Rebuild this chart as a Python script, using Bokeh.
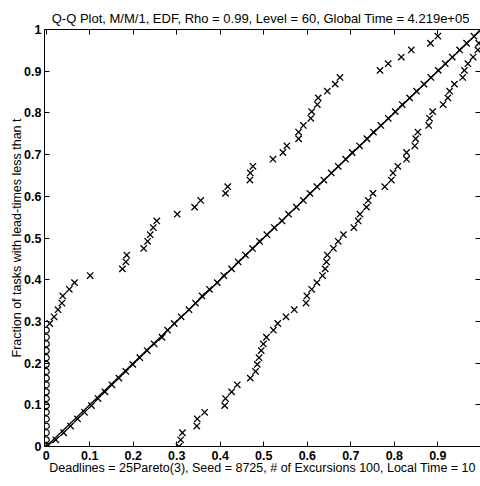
from bokeh.plotting import figure
from bokeh.models import ColumnDataSource, FixedTicker, LinearAxis, Slope, Range1d
from bokeh.embed import file_html
from bokeh.resources import INLINE

# EDF levels (fraction of tasks)
levels = [0.000, 0.016, 0.033, 0.049, 0.066, 0.082, 0.098, 0.115, 0.131, 0.148,
          0.164, 0.180, 0.197, 0.213, 0.230, 0.246, 0.262, 0.279, 0.295, 0.311,
          0.328, 0.344, 0.361, 0.377, 0.393, 0.410, 0.426, 0.443, 0.459, 0.475,
          0.492, 0.508, 0.525, 0.541, 0.557, 0.574, 0.590, 0.607, 0.623, 0.639,
          0.656, 0.672, 0.689, 0.705, 0.721, 0.738, 0.754, 0.770, 0.787, 0.803,
          0.820, 0.836, 0.852, 0.869, 0.885, 0.902, 0.918, 0.934, 0.951, 0.967,
          0.984, 1.000]

# series close to the diagonal (levels 0..61)
diag_x = [0.000, 0.022, 0.040, 0.056, 0.072, 0.088, 0.104, 0.119, 0.135, 0.151,
          0.167, 0.183, 0.199, 0.215, 0.232, 0.248, 0.266, 0.279, 0.294, 0.310,
          0.328, 0.343, 0.358, 0.375, 0.393, 0.408, 0.426, 0.441, 0.458, 0.474,
          0.490, 0.507, 0.524, 0.542, 0.557, 0.575, 0.591, 0.606, 0.622, 0.638,
          0.655, 0.671, 0.688, 0.703, 0.720, 0.737, 0.752, 0.769, 0.786, 0.802,
          0.818, 0.835, 0.851, 0.868, 0.884, 0.901, 0.917, 0.933, 0.950, 0.966,
          0.983, 0.998]

# points sitting on x = 0 (levels 0..17)
zero_x = [0, 0, 0, 0, 0, 0, 0, 0, 0, 0, 0, 0, 0, 0, 0, 0, 0, 0]

# upper series (levels 18..60)
upper_x = [0.008, 0.018, 0.027, 0.036, 0.038, 0.053, 0.065, 0.101, 0.175, 0.183,
           0.185, 0.224, 0.233, 0.239, 0.246, 0.254, 0.301, 0.341, 0.355, 0.412,
           0.417, 0.468, 0.469, 0.475, 0.521, 0.544, 0.553, 0.580, 0.580, 0.591,
           0.608, 0.610, 0.623, 0.625, 0.646, 0.664, 0.675, 0.767, 0.786, 0.816,
           0.839, 0.883, 0.900]

# lower series (levels 0..59)
lower_x = [0.305, 0.309, 0.313, 0.346, 0.347, 0.364, 0.410, 0.412, 0.426, 0.439,
           0.469, 0.481, 0.485, 0.489, 0.494, 0.499, 0.506, 0.522, 0.532, 0.551,
           0.570, 0.597, 0.599, 0.610, 0.622, 0.635, 0.641, 0.644, 0.646, 0.660,
           0.671, 0.683, 0.707, 0.717, 0.721, 0.736, 0.740, 0.751, 0.778, 0.793,
           0.797, 0.808, 0.828, 0.828, 0.847, 0.849, 0.854, 0.879, 0.881, 0.888,
           0.912, 0.923, 0.927, 0.938, 0.957, 0.961, 0.969, 0.981, 0.992, 0.994]

x_ticks = [0, 0.1, 0.2, 0.3, 0.4, 0.5, 0.6, 0.7, 0.8, 0.9, 1]
y_ticks = [0, 0.1, 0.2, 0.3, 0.4, 0.5, 0.6, 0.7, 0.8, 0.9, 1]

title_text = "Q-Q Plot, M/M/1, EDF, Rho = 0.99, Level = 60,  Global Time = 4.219e+05"
x_label = "Deadlines = 25Pareto(3), Seed = 8725, # of Excursions 100, Local Time = 10"
y_label = "Fraction of tasks with lead-times less than t"

FONT = "Liberation Sans"

diag_src = ColumnDataSource(dict(x=diag_x, y=levels[:len(diag_x)]))
zero_src = ColumnDataSource(dict(x=zero_x, y=levels[:len(zero_x)]))
upper_src = ColumnDataSource(dict(x=upper_x, y=levels[18:18 + len(upper_x)]))
lower_src = ColumnDataSource(dict(x=lower_x, y=levels[:len(lower_x)]))

p = figure(width=480, height=486, output_backend="svg", toolbar_location=None,
           x_range=Range1d(-0.004, 0.998), y_range=Range1d(0, 1),
           min_border_left=44, min_border_right=0, min_border_top=29,
           min_border_bottom=40, background_fill_color="white",
           border_fill_color="white")
p.outline_line_color = None
p.grid.visible = False

p.title.text = title_text
p.title.align = "center"
p.title.text_font = FONT
p.title.text_font_size = "13px"
p.title.text_font_style = "normal"
p.title.text_color = "black"
p.title.standoff = 8

ticker_x = FixedTicker(ticks=x_ticks)
ticker_y = FixedTicker(ticks=y_ticks)
overrides = {0: "0", 1: "1"}

for ax, tk in ((p.xaxis[0], ticker_x), (p.yaxis[0], ticker_y)):
    ax.ticker = tk
    ax.major_label_overrides = overrides
    ax.major_tick_in = 5
    ax.major_tick_out = 0
    ax.minor_tick_line_color = None
    ax.axis_line_color = "black"
    ax.major_tick_line_color = "black"
    ax.major_label_text_font = FONT
    ax.major_label_text_font_size = "12.5px"
    ax.major_label_text_font_style = "bold"
    ax.major_label_text_color = "black"
    ax.axis_label_text_font = FONT
    ax.axis_label_text_font_size = "12.5px"
    ax.axis_label_text_font_style = "normal"
    ax.axis_label_text_color = "black"

p.xaxis[0].axis_label = x_label
p.xaxis[0].major_label_standoff = 4
p.xaxis[0].axis_label_standoff = -2
p.yaxis[0].axis_label = y_label
p.yaxis[0].major_label_standoff = 3
p.yaxis[0].axis_label_standoff = -3

top_axis = LinearAxis(ticker=ticker_x, major_tick_in=5, major_tick_out=0,
                      minor_tick_line_color=None, major_label_text_font_size="0px",
                      major_label_text_color=None,
                      major_label_standoff=0, axis_line_color="black")
right_axis = LinearAxis(ticker=ticker_y, major_tick_in=5, major_tick_out=0,
                        minor_tick_line_color=None, major_label_text_font_size="0px",
                        major_label_text_color=None,
                        major_label_standoff=0, axis_line_color=None)
p.add_layout(top_axis, "above")
p.add_layout(right_axis, "right")

# reference diagonal
p.add_layout(Slope(gradient=1, y_intercept=0, line_color="black", line_width=1.3))

p.line("x", "y", source=diag_src, line_color="black", line_width=1)
p.scatter("x", "y", source=diag_src, marker="x", size=9, line_color="black", line_width=1.3)
p.scatter("x", "y", source=zero_src, marker="circle", size=6, fill_color=None,
          line_color="black", line_width=1.2)
p.scatter("x", "y", source=upper_src, marker="x", size=9, line_color="black", line_width=1.3)
p.scatter("x", "y", source=lower_src, marker="x", size=9, line_color="black", line_width=1.3)

open("out.html", "w").write(file_html(p, INLINE))
